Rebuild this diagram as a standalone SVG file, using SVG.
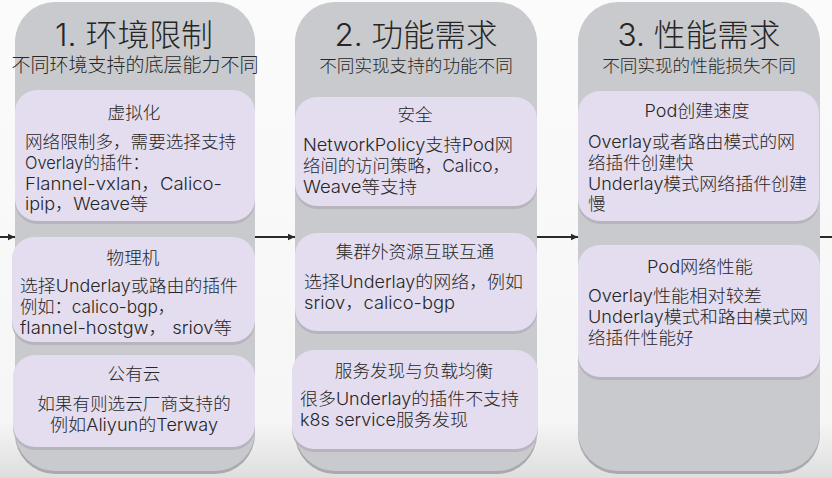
<svg xmlns="http://www.w3.org/2000/svg" width="832" height="478" viewBox="0 0 832 478">
<defs>
<linearGradient id="bg" x1="0" y1="0" x2="0" y2="1">
<stop offset="0" stop-color="#fbfbfb"/>
<stop offset="0.88" stop-color="#f6f6f6"/>
<stop offset="1" stop-color="#dedede"/>
</linearGradient>
<marker id="ah" markerWidth="8" markerHeight="8" refX="7" refY="4" orient="auto" markerUnits="userSpaceOnUse">
<path d="M0,0.8 L7,4 L0,7.2 Z" fill="#2a2a2a"/>
</marker>
<style>
.col{fill:#c9cacd;}
.colsh{fill:#a9aaae;}
.card{fill:#e3ddef;}
.cardsh{fill:#b7b4bd;}
text{font-family:Inter,"Liberation Sans","Noto Sans CJK SC",sans-serif;fill:#262626;font-weight:300;}
.title{font-size:31px;text-anchor:middle;}
.sub{font-size:17.6px;text-anchor:middle;}
.head{font-size:17.6px;text-anchor:middle;}
.body{font-size:17.6px;}
.conn{stroke:#2a2a2a;stroke-width:2;fill:none;marker-end:url(#ah);}
</style>
</defs>
<rect x="0" y="0" width="832" height="478" fill="url(#bg)"/>
<g id="connectors">
<line class="conn" x1="0" y1="237" x2="15" y2="237"/>
<line class="conn" x1="255" y1="237" x2="295" y2="237"/>
<line class="conn" x1="537" y1="237" x2="578" y2="237"/>
<line x1="820" y1="237" x2="832" y2="237" stroke="#2a2a2a" stroke-width="2"/>
</g>
<g id="col1">
<rect class="colsh" x="15" y="4" width="240" height="470" rx="40"/>
<rect class="col" x="15" y="2" width="240" height="469" rx="40"/>
<text class="title" x="134" y="46" textLength="158" lengthAdjust="spacingAndGlyphs">1. 环境限制</text>
<text class="sub" x="135" y="72" style="font-size:19px">不同环境支持的底层能力不同</text>
</g>
<g id="col2">
<rect class="colsh" x="295" y="4" width="242" height="470" rx="40"/>
<rect class="col" x="295" y="2" width="242" height="469" rx="40"/>
<text class="title" x="416" y="46" textLength="163" lengthAdjust="spacingAndGlyphs">2. 功能需求</text>
<text class="sub" x="416" y="72">不同实现支持的功能不同</text>
</g>
<g id="col3">
<rect class="colsh" x="578" y="4" width="242" height="470" rx="40"/>
<rect class="col" x="578" y="2" width="242" height="469" rx="40"/>
<text class="title" x="699" y="46" textLength="163" lengthAdjust="spacingAndGlyphs">3. 性能需求</text>
<text class="sub" x="699" y="72">不同实现的性能损失不同</text>
</g>
<g id="card-virtual">
<rect class="cardsh" x="15" y="92" width="240" height="132" rx="22"/>
<rect class="card" x="15" y="90" width="240" height="131" rx="22"/>
<text class="head" x="134" y="119">虚拟化</text>
<text class="body" x="25" y="148">网络限制多，需要选择支持</text>
<text class="body" x="25" y="169" textLength="124" lengthAdjust="spacingAndGlyphs">Overlay的插件：</text>
<text class="body" x="25" y="190" textLength="197" lengthAdjust="spacingAndGlyphs">Flannel-vxlan，Calico-</text>
<text class="body" x="25" y="210" textLength="123" lengthAdjust="spacingAndGlyphs">ipip，Weave等</text>
</g>
<g id="card-physical">
<rect class="cardsh" x="12" y="239" width="243" height="106" rx="22"/>
<rect class="card" x="12" y="237" width="243" height="105" rx="22"/>
<text class="head" x="133" y="264">物理机</text>
<text class="body" x="20" y="292" textLength="218" lengthAdjust="spacingAndGlyphs">选择Underlay或路由的插件</text>
<text class="body" x="20" y="313" textLength="155" lengthAdjust="spacingAndGlyphs">例如：calico-bgp，</text>
<text class="body" x="20" y="334" textLength="212" lengthAdjust="spacingAndGlyphs">flannel-hostgw， sriov等</text>
</g>
<g id="card-cloud">
<rect class="cardsh" x="13" y="357" width="242" height="93" rx="22"/>
<rect class="card" x="13" y="355" width="242" height="92" rx="22"/>
<text class="head" x="134" y="380">公有云</text>
<text class="head" x="134" y="410">如果有则选云厂商支持的</text>
<text class="head" x="134" y="431" textLength="168" lengthAdjust="spacingAndGlyphs">例如Aliyun的Terway</text>
</g>
<g id="card-security">
<rect class="cardsh" x="295" y="99" width="242" height="110" rx="22"/>
<rect class="card" x="295" y="97" width="242" height="109" rx="22"/>
<text class="head" x="415" y="121">安全</text>
<text class="body" x="303" y="151" textLength="210" lengthAdjust="spacingAndGlyphs">NetworkPolicy支持Pod网</text>
<text class="body" x="303" y="172" textLength="207" lengthAdjust="spacingAndGlyphs">络间的访问策略，Calico，</text>
<text class="body" x="303" y="193" textLength="114" lengthAdjust="spacingAndGlyphs">Weave等支持</text>
</g>
<g id="card-external">
<rect class="cardsh" x="295" y="235" width="242" height="99" rx="22"/>
<rect class="card" x="295" y="233" width="242" height="98" rx="22"/>
<text class="head" x="415" y="258">集群外资源互联互通</text>
<text class="body" x="304" y="288" textLength="219" lengthAdjust="spacingAndGlyphs">选择Underlay的网络，例如</text>
<text class="body" x="304" y="309" textLength="151" lengthAdjust="spacingAndGlyphs">sriov，calico-bgp</text>
</g>
<g id="card-service">
<rect class="cardsh" x="292" y="352" width="246" height="100" rx="22"/>
<rect class="card" x="292" y="350" width="246" height="99" rx="22"/>
<text class="head" x="414" y="377">服务发现与负载均衡</text>
<text class="body" x="300" y="405" textLength="219" lengthAdjust="spacingAndGlyphs">很多Underlay的插件不支持</text>
<text class="body" x="300" y="426" textLength="168" lengthAdjust="spacingAndGlyphs">k8s service服务发现</text>
</g>
<g id="card-podcreate">
<rect class="cardsh" x="578" y="93" width="241" height="131" rx="22"/>
<rect class="card" x="578" y="91" width="241" height="130" rx="22"/>
<text class="head" x="697" y="117" textLength="105" lengthAdjust="spacingAndGlyphs">Pod创建速度</text>
<text class="body" x="588" y="148" textLength="207" lengthAdjust="spacingAndGlyphs">Overlay或者路由模式的网</text>
<text class="body" x="588" y="169">络插件创建快</text>
<text class="body" x="588" y="190" textLength="219" lengthAdjust="spacingAndGlyphs">Underlay模式网络插件创建</text>
<text class="body" x="588" y="210">慢</text>
</g>
<g id="card-podnet">
<rect class="cardsh" x="578" y="247" width="242" height="133" rx="22"/>
<rect class="card" x="578" y="245" width="242" height="132" rx="22"/>
<text class="head" x="700" y="273" textLength="106" lengthAdjust="spacingAndGlyphs">Pod网络性能</text>
<text class="body" x="588" y="302" textLength="174" lengthAdjust="spacingAndGlyphs">Overlay性能相对较差</text>
<text class="body" x="588" y="323" textLength="220" lengthAdjust="spacingAndGlyphs">Underlay模式和路由模式网</text>
<text class="body" x="588" y="344">络插件性能好</text>
</g>
</svg>
